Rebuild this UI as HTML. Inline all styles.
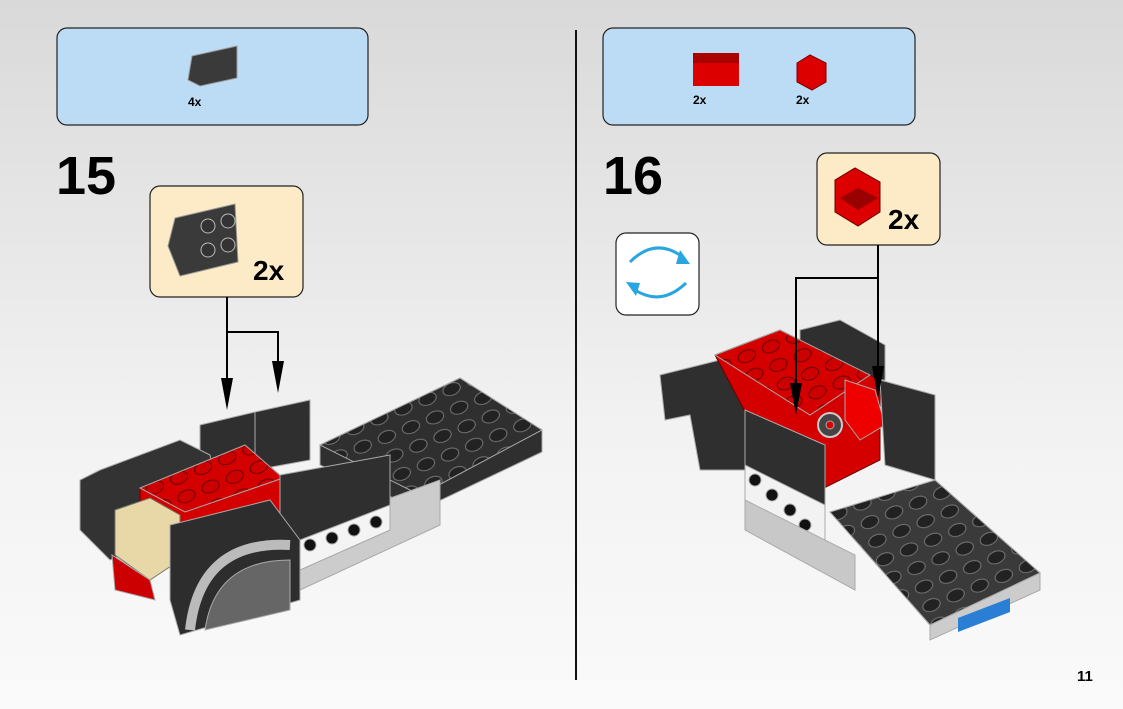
<!DOCTYPE html>
<html><head><meta charset="utf-8"><style>
body{margin:0;width:1123px;height:709px;overflow:hidden;background:linear-gradient(#d9d9d9,#f2f2f2 60%,#fafafa);font-family:"Liberation Sans",sans-serif}
</style></head><body>
<svg width="1123" height="709" viewBox="0 0 1123 709" xmlns="http://www.w3.org/2000/svg" style="position:absolute;left:0;top:0">
<defs>
<pattern id="studs" width="26" height="20" patternUnits="userSpaceOnUse" patternTransform="rotate(-22)"><ellipse cx="13" cy="10" rx="9" ry="6" fill="#222" stroke="#777" stroke-width="1"/></pattern>
<pattern id="rstuds" width="26" height="20" patternUnits="userSpaceOnUse" patternTransform="rotate(-22)"><ellipse cx="13" cy="10" rx="9" ry="6" fill="#c00" stroke="#600" stroke-width="1"/></pattern>
</defs>
<line x1="576" y1="30" x2="576" y2="680" stroke="#111" stroke-width="2"/>
<rect x="57" y="28" width="311" height="97" rx="10" fill="#bcdcf5" stroke="#222" stroke-width="1.2"/>
<rect x="603" y="28" width="312" height="97" rx="10" fill="#bcdcf5" stroke="#222" stroke-width="1.2"/>
<path d="M192,56 L237,46 L237,78 L200,86 L188,80Z" fill="#3a3a3a" stroke="#999"/>
<text x="188" y="106" font-size="12" font-weight="bold">4x</text>
<rect x="693" y="53" width="46" height="33" fill="#d00"/><rect x="693" y="53" width="46" height="10" fill="#a00"/>
<text x="693" y="104" font-size="12" font-weight="bold">2x</text>
<path d="M797,63 L810,55 L826,63 L826,82 L812,90 L797,82Z" fill="#d00" stroke="#700"/>
<text x="796" y="104" font-size="12" font-weight="bold">2x</text>
<text x="56" y="194" font-size="54" font-weight="bold">15</text>
<text x="603" y="194" font-size="54" font-weight="bold">16</text>
<rect x="150" y="186" width="153" height="111" rx="10" fill="#fcebc6" stroke="#222" stroke-width="1.2"/>
<path d="M175,218 L235,204 L238,262 L180,276 L168,246Z" fill="#3a3a3a" stroke="#999"/>
<circle cx="208" cy="226" r="7" fill="#333" stroke="#bbb"/><circle cx="228" cy="221" r="7" fill="#333" stroke="#bbb"/><circle cx="208" cy="250" r="7" fill="#333" stroke="#bbb"/><circle cx="228" cy="245" r="7" fill="#333" stroke="#bbb"/>
<text x="253" y="280" font-size="28" font-weight="bold">2x</text>
<rect x="817" y="153" width="123" height="92" rx="10" fill="#fcebc6" stroke="#222" stroke-width="1.2"/>
<path d="M835,180 L855,168 L880,182 L880,212 L858,226 L835,212Z" fill="#d00" stroke="#600"/>
<path d="M840,198 L858,188 L878,198 L858,210Z" fill="#900"/>
<text x="888" y="229" font-size="28" font-weight="bold">2x</text>
<rect x="616" y="233" width="83" height="82" rx="10" fill="#fff" stroke="#222" stroke-width="1.2"/>
<path d="M630,262 Q656,236 684,258" fill="none" stroke="#29a6e0" stroke-width="3"/><path d="M680,250 L690,264 L676,264Z" fill="#29a6e0"/>
<path d="M686,283 Q660,308 632,288" fill="none" stroke="#29a6e0" stroke-width="3"/><path d="M636,296 L626,282 L640,283Z" fill="#29a6e0"/>
<!-- left model -->
<g stroke="#aaa" stroke-width="1">
<path d="M320,445 L460,378 L542,430 L542,452 L420,510 L320,465Z" fill="#2f2f2f"/>
<path d="M320,445 L460,378 L542,430 L420,495Z" fill="url(#studs)"/>
<path d="M385,500 L440,480 L440,525 L300,590 L290,545Z" fill="#ccc"/>
<path d="M200,425 L255,412 L310,400 L310,460 L200,480Z" fill="#2f2f2f"/>
<line x1="255" y1="412" x2="255" y2="470"/>
<path d="M100,470 L180,440 L210,455 L220,510 L110,560 L80,530 L80,480Z" fill="#333"/>
<path d="M140,488 L245,445 L283,478 L283,510 L185,535 L140,515Z" fill="#d40000" stroke="#600"/>
<path d="M140,488 L245,445 L283,478 L185,512Z" fill="url(#rstuds)"/>
<path d="M115,510 L150,498 L180,515 L180,560 L150,580 L115,555Z" fill="#e8d8a8" stroke="#776"/>
<path d="M112,555 L150,580 L155,600 L115,590Z" fill="#c00"/>
<path d="M280,475 L390,455 L390,530 L300,570 L280,560Z" fill="#2f2f2f"/>
<path d="M300,540 L390,505 L390,530 L300,570Z" fill="#f4f4f4"/>
<circle cx="310" cy="545" r="6" fill="#111"/><circle cx="332" cy="538" r="6" fill="#111"/><circle cx="354" cy="530" r="6" fill="#111"/><circle cx="376" cy="522" r="6" fill="#111"/>
<path d="M170,525 L270,500 L300,540 L300,600 L180,635 L170,600Z" fill="#2d2d2d"/>
<path d="M190,630 Q200,540 290,545" fill="none" stroke="#bbb" stroke-width="10"/>
<path d="M205,630 Q215,560 290,560 L290,610 L205,630Z" fill="#666"/>
</g>
<path d="M227,297 V332 H278 V372" fill="none" stroke="#000" stroke-width="2"/>
<line x1="227" y1="332" x2="227" y2="390" stroke="#000" stroke-width="2"/>
<path d="M221,378 L233,378 L227,410Z" fill="#000"/>
<path d="M272,361 L284,361 L278,393Z" fill="#000"/>
<!-- right model -->
<g stroke="#aaa" stroke-width="1">
<path d="M800,330 L840,320 L885,345 L885,380 L800,380Z" fill="#2f2f2f"/>
<path d="M660,375 L740,355 L760,400 L745,470 L700,470 L690,415 L665,420Z" fill="#2f2f2f"/>
<path d="M715,355 L780,330 L880,380 L880,460 L820,490 L760,440Z" fill="#d40000" stroke="#600"/>
<path d="M715,355 L780,330 L870,375 L810,415Z" fill="url(#rstuds)"/>
<path d="M845,380 L875,390 L885,425 L860,440 L845,420Z" fill="#e00"/>
<path d="M880,380 L935,395 L935,480 L885,465Z" fill="#2f2f2f"/>
<circle cx="830" cy="425" r="12" fill="#444" stroke="#ccc" stroke-width="2"/><circle cx="830" cy="425" r="4" fill="#d00"/>
<path d="M745,410 L825,445 L825,545 L745,505Z" fill="#2f2f2f"/>
<path d="M745,465 L825,505 L825,545 L745,505Z" fill="#f2f2f2"/>
<circle cx="755" cy="480" r="6" fill="#111"/><circle cx="772" cy="495" r="6" fill="#111"/><circle cx="790" cy="510" r="6" fill="#111"/><circle cx="805" cy="525" r="6" fill="#111"/>
<path d="M745,500 L855,555 L855,590 L745,530Z" fill="#c8c8c8"/>
<path d="M830,512 L935,480 L1040,573 L930,625Z" fill="#3a3a3a"/>
<path d="M830,512 L935,480 L1040,573 L930,625Z" fill="url(#studs)"/>
<path d="M930,625 L1040,573 L1040,590 L930,640Z" fill="#ccc"/>
<path d="M958,618 L1010,598 L1010,612 L958,632Z" fill="#2a7fd4" stroke="none"/>
</g>
<path d="M878,245 V278 H796 V395" fill="none" stroke="#000" stroke-width="2"/>
<line x1="878" y1="278" x2="878" y2="370" stroke="#000" stroke-width="2"/>
<path d="M790,383 L802,383 L796,415Z" fill="#000"/>
<path d="M872,366 L884,366 L878,398Z" fill="#000"/>
<text x="1077" y="681" font-size="15" font-weight="bold">11</text>
</svg>
</body></html>
